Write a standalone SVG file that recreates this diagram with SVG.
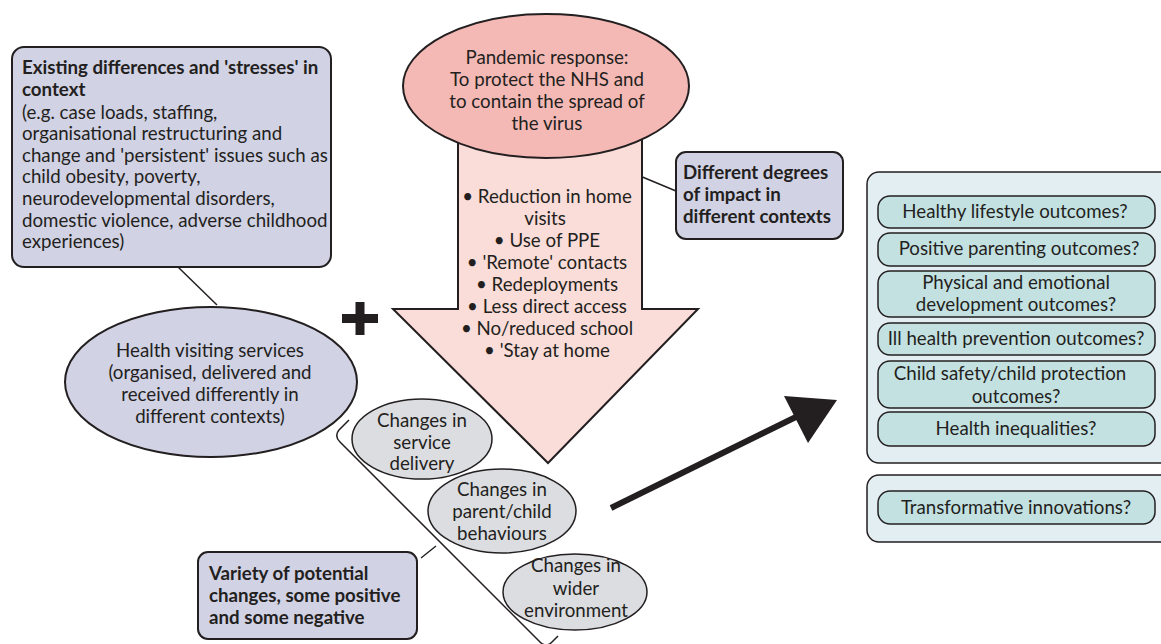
<svg xmlns="http://www.w3.org/2000/svg" width="1161" height="644" viewBox="0 0 1161 644">
<style>
text{font-family:Lato,"Open Sans","Liberation Sans",sans-serif;font-size:18.7px;fill:#231f20}
.b{font-weight:bold}
.m{text-anchor:middle}
.lav{fill:#d1d2e4;stroke:#231f20;stroke-width:2}
.gray{fill:#dcdde0;stroke:#231f20;stroke-width:1.5}
.outer{fill:#e2eef2;stroke:#231f20;stroke-width:1.5}
.inner{fill:#c4e1e2;stroke:#231f20;stroke-width:1.5}
.ln{fill:none;stroke:#231f20;stroke-width:1.5}
</style>
<g id="connectors">
<line class="ln" x1="178" y1="267" x2="217" y2="305"/>
<line class="ln" x1="640" y1="176" x2="676" y2="191"/>
<line class="ln" x1="421" y1="558" x2="436" y2="546"/>
<path class="ln" d="M349,420 L339,430 Q334,436 340,442 L540,642 Q546,648 552,642 L558,636"/>
<line x1="611" y1="508" x2="800" y2="415" stroke="#231f20" stroke-width="6"/>
<polygon points="784,396 837,400 808,443" fill="#231f20"/>
</g>
<g id="existing">
<rect class="lav" x="12" y="47" width="319" height="220" rx="12"/>
<text class="b" x="22" y="74">Existing differences and 'stresses' in</text>
<text class="b" x="22" y="96">context</text>
<text x="22" y="119">(e.g. case loads, staffing,</text>
<text x="22" y="140">organisational restructuring and</text>
<text x="22" y="162">change and 'persistent' issues such as</text>
<text x="22" y="183">child obesity, poverty,</text>
<text x="22" y="205">neurodevelopmental disorders,</text>
<text x="22" y="227">domestic violence, adverse childhood</text>
<text x="22" y="248">experiences)</text>
</g>
<g id="health">
<ellipse class="lav" cx="211" cy="382" rx="146" ry="75"/>
<text class="m" x="210" y="357">Health visiting services</text>
<text class="m" x="210" y="379">(organised, delivered and</text>
<text class="m" x="210" y="401">received differently in</text>
<text class="m" x="210" y="423">different contexts)</text>
</g>
<g id="plus">
<rect x="342" y="314" width="36" height="9" fill="#231f20"/>
<rect x="355.5" y="302" width="9" height="33" fill="#231f20"/>
</g>
<g id="arrow">
<polygon points="458,120 642,120 642,309 698,309 548,463 393,309 458,309" fill="#fadcd8" stroke="#231f20" stroke-width="2"/>
<text class="m" x="547" y="203">• Reduction in home</text>
<text class="m" x="545" y="225">visits</text>
<text class="m" x="547" y="247">• Use of PPE</text>
<text class="m" x="547" y="269">• 'Remote' contacts</text>
<text class="m" x="547" y="291">• Redeployments</text>
<text class="m" x="547" y="313">• Less direct access</text>
<text class="m" x="547" y="335">• No/reduced school</text>
<text class="m" x="547" y="357">• 'Stay at home</text>
</g>
<g id="pandemic">
<ellipse cx="546" cy="86" rx="143" ry="72" fill="#f4b9b5" stroke="#231f20" stroke-width="2"/>
<text class="m" x="547" y="64">Pandemic response:</text>
<text class="m" x="547" y="86">To protect the NHS and</text>
<text class="m" x="547" y="108">to contain the spread of</text>
<text class="m" x="547" y="130">the virus</text>
</g>
<g id="degrees">
<rect class="lav" x="676" y="152" width="167" height="87" rx="10"/>
<text class="b" x="683" y="179">Different degrees</text>
<text class="b" x="683" y="201">of impact in</text>
<text class="b" x="683" y="223">different contexts</text>
</g>
<g id="change1">
<ellipse class="gray" cx="422" cy="439" rx="70" ry="40"/>
<text class="m" x="422" y="427">Changes in</text>
<text class="m" x="422" y="449">service</text>
<text class="m" x="422" y="470">delivery</text>
</g>
<g id="change2">
<ellipse class="gray" cx="502" cy="511" rx="74" ry="42"/>
<text class="m" x="502" y="496">Changes in</text>
<text class="m" x="502" y="518">parent/child</text>
<text class="m" x="502" y="540">behaviours</text>
</g>
<g id="change3">
<ellipse class="gray" cx="575" cy="592" rx="72" ry="38"/>
<text class="m" x="576" y="572">Changes in</text>
<text class="m" x="576" y="595">wider</text>
<text class="m" x="576" y="617">environment</text>
</g>
<g id="variety">
<rect class="lav" x="198" y="552" width="219" height="87" rx="10"/>
<text class="b" x="209" y="580">Variety of potential</text>
<text class="b" x="209" y="602">changes, some positive</text>
<text class="b" x="209" y="624">and some negative</text>
</g>
<g id="outcomes">
<rect class="outer" x="867" y="172" width="310" height="291" rx="12"/>
<rect class="inner" x="878" y="196" width="277" height="32" rx="12"/>
<text class="m" x="1015" y="218">Healthy lifestyle outcomes?</text>
<rect class="inner" x="878" y="233" width="277" height="33" rx="12"/>
<text class="m" x="1019" y="255">Positive parenting outcomes?</text>
<rect class="inner" x="878" y="271" width="277" height="46" rx="12"/>
<text class="m" x="1016" y="289">Physical and emotional</text>
<text class="m" x="1016" y="311">development outcomes?</text>
<rect class="inner" x="878" y="323" width="277" height="32" rx="12"/>
<text class="m" x="1016" y="345">Ill health prevention outcomes?</text>
<rect class="inner" x="878" y="361" width="277" height="47" rx="12"/>
<text class="m" x="1010" y="380">Child safety/child protection</text>
<text class="m" x="1016" y="403">outcomes?</text>
<rect class="inner" x="878" y="412" width="277" height="34" rx="12"/>
<text class="m" x="1016" y="435">Health inequalities?</text>
</g>
<g id="innovations">
<rect class="outer" x="867" y="475" width="310" height="67" rx="12"/>
<rect class="inner" x="878" y="491" width="277" height="33" rx="12"/>
<text class="m" x="1016" y="514">Transformative innovations?</text>
</g>
</svg>
